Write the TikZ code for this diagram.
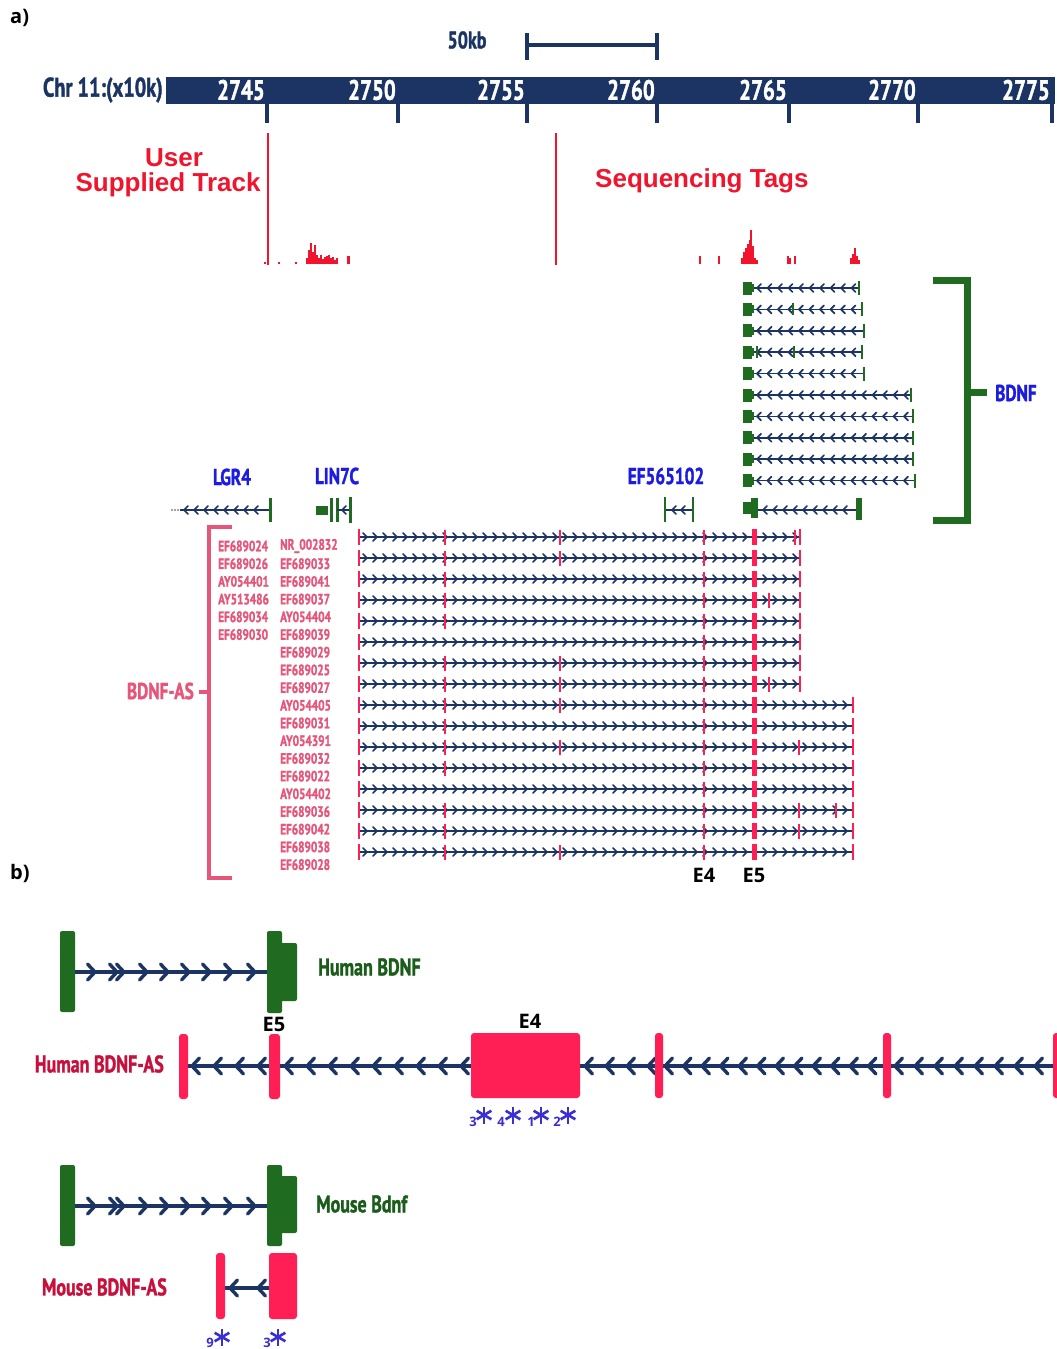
\documentclass[tikz,border=0pt]{standalone}
\usepackage{fontspec}
\setmainfont{Open Sans}
\newfontfamily\cnd[FakeStretch=0.75,FakeBold=1.3]{PT Sans}
\newfontfamily\arl{Liberation Sans}
\definecolor{navy}{HTML}{1B3463}
\definecolor{gene}{HTML}{1F6B20}
\definecolor{genetxt}{HTML}{1A5C1A}
\definecolor{lbl}{HTML}{1C1CE0}
\definecolor{trk}{HTML}{F0142D}
\definecolor{aslbl}{HTML}{E6557A}
\definecolor{asx}{HTML}{FF1F55}
\definecolor{crim}{HTML}{C8103C}
\definecolor{astr}{HTML}{3A2FD0}
\begin{document}
\begin{tikzpicture}[x=1pt,y=-1pt,
  cn/.style={font=\cnd\bfseries\fontsize{#1}{#1}\selectfont, inner sep=0pt},
  osb/.style={font=\bfseries\fontsize{#1}{#1}\selectfont, inner sep=0pt},
  trkl/.style={font=\arl\bfseries\fontsize{26}{26}\selectfont, text=trk, inner sep=0pt},
  chl/.pic={\draw[navy,line width=1.7pt,line cap=round,line join=round] (4,-4) -- (0,0) -- (4,4);},
  chr/.pic={\draw[navy,line width=1.7pt,line cap=round,line join=round] (-4,-4) -- (0,0) -- (-4,4);},
  bchl/.pic={\draw[navy,line width=3.4pt,line cap=round,line join=round] (7.5,-8) -- (0,0) -- (7.5,8);},
  bchr/.pic={\draw[navy,line width=3.4pt,line cap=round,line join=round] (-7.5,-8) -- (0,0) -- (-7.5,8);},
  star/.pic={\foreach \a in {90,30,150} \draw[astr,line width=2.6pt] (\a:8.5) -- (\a+180:8.5);},
  asline/.style={navy,line width=1.6pt},
  asmark/.style={asx,line width=2.2pt},
  gtick/.style={gene,line width=2.6pt},
  bline/.style={navy,line width=3.2pt},
  stardig/.style={font=\bfseries\fontsize{13}{13}\selectfont,text=astr,inner sep=0pt},
]
\fill[white] (0,0) rectangle (1057,1349);
\useasboundingbox (0,0) rectangle (1057,1349);

% ---------------- panel a: ruler ----------------
\node[osb=20,anchor=west] (pa) at (10,18) {a)};
\node[cn=24,text=navy] (kb) at (467,40) {50kb};
\draw[navy,line width=3.5pt] (527,45) -- (657,45);
\draw[navy,line width=3.5pt] (527,33) -- (527,60);
\draw[navy,line width=3.5pt] (657,33) -- (657,60);

\fill[navy] (166,77) rectangle (1055,104);
\node[cn=27,text=navy,anchor=east] (chr) at (163,90) {Chr 11:(x10k)};
\foreach \tx/\lab in {267/2745,398/2750,527/2755,657/2760,789/2765,918/2770,1052/2775} {
  \draw[navy,line width=3.5pt] (\tx,100) -- (\tx,123);
  \node[cn=28,text=white,anchor=east] (t\lab) at (\tx-2,90) {\lab};
}

% ---------------- signal tracks ----------------
\node[trkl] (user) at (174,158) {User};
\node[trkl] (supp) at (168,185) {Supplied Track};
\node[trkl,anchor=west] (seq) at (595,181) {Sequencing Tags};
\draw[trk,line width=1.8pt] (268,133) -- (268,265);
\draw[trk,line width=1.8pt] (556,133) -- (556,265);
\foreach \px/\py in {265/262,279/262,296/262,307/258,309/250,311/243,313/252,315/245,317/255,319/258,
  321/255,323/259,325/257,327/256,329/255,331/258,333/257,335/260,337/258,348/256,349/256,
  700/256,719/256,742/258,744/252,746/248,748/244,750/240,751/230,753/246,755/258,757/260,
  788/256,790/258,795/256,851/258,853/254,855/248,857/256,859/260}
  \draw[trk,line width=1.4pt] (\px,264) -- (\px,\py);

% ---------------- BDNF transcripts ----------------
\foreach \i/\xe in {1/859,2/862,3/864,4/862,5/864,6/911,7/913,8/913,9/913,10/915} {
  \pgfmathsetmacro\ry{288+21.4*(\i-1)}
  \pgfmathsetmacro\ce{\xe-4}
  \draw[asline] (752,\ry) -- (\xe,\ry);
  \foreach \cx in {757,767.5,...,\ce} \pic at (\cx,\ry) {chl};
  \fill[gene] (743,\ry-6.5) rectangle (752,\ry+6.5);
  \fill[gene] (751,\ry-4) rectangle (754,\ry+4);
  \draw[gtick] (\xe,\ry-7) -- (\xe,\ry+7);
}
\draw[gtick] (793,303.4) -- (793,315.4);
\draw[gtick] (757,346.2) -- (757,358.2);
\draw[gtick] (794,346.2) -- (794,358.2);
\draw[asline] (756,510) -- (858,510);
\foreach \cx in {763,773,...,850} \pic at (\cx,510) {chl};
\fill[gene] (743,502) rectangle (752,514);
\fill[gene] (751,498) rectangle (758,518);
\fill[gene] (856,498) rectangle (862,520);

\draw[gene,line width=7pt] (933,280.5) -- (967.5,280.5) -- (967.5,520.5) -- (933,520.5);
\draw[gene,line width=7pt] (967.5,392.5) -- (987,392.5);
\node[cn=23,text=lbl,anchor=west] (bdnf) at (995,393) {BDNF};

% ---------------- neighbouring genes ----------------
\node[cn=23,text=lbl] (lgr) at (232,477) {LGR4};
\node[cn=23,text=lbl] (lin) at (337,476) {LIN7C};
\node[cn=23,text=lbl] (ef) at (666,476) {EF565102};

\foreach \dx in {172,175,178} \fill[gene] (\dx,510) circle (0.9);
\draw[asline] (180,510) -- (270,510);
\foreach \cx in {184,194,...,262} \pic at (\cx,510) {chl};
\draw[gene,line width=3pt] (270,498) -- (270,522);

\fill[gene] (316,506) rectangle (328,515);
\draw[gene,line width=3pt] (331,498) -- (331,522);
\draw[gene,line width=3pt] (337,498) -- (337,522);
\draw[asline] (337,510) -- (350,510);
\pic at (342,510) {chl};
\draw[gene,line width=3pt] (350,497) -- (350,523);

\draw[asline] (665,510) -- (693,510);
\pic at (672,510) {chl};
\pic at (681,510) {chl};
\draw[gene,line width=2.5pt] (665,497) -- (665,522);
\draw[gene,line width=2.5pt] (693,497) -- (693,522);

% ---------------- BDNF-AS transcripts ----------------
\draw[aslbl,line width=4pt] (232,527) -- (209,527) -- (209,878) -- (232,878);
\draw[aslbl,line width=4pt] (199,692) -- (209,692);
\node[cn=23,text=aslbl,anchor=east] (bdnfas) at (194,691) {BDNF-AS};

\foreach \nm [count=\k] in {EF689024,EF689026,AY054401,AY513486,EF689034,EF689030}
  \node[cn=15,text=aslbl,anchor=west] (ca\k) at (218,{546+17.7*(\k-1)}) {\nm};
\foreach \nm [count=\k] in {NR\_002832,EF689033,EF689041,EF689037,AY054404,EF689039,EF689029,
  EF689025,EF689027,AY054405,EF689031,AY054391,EF689032,EF689022,AY054402,EF689036,EF689042,
  EF689038,EF689028}
  \node[cn=15,text=aslbl,anchor=west] (cb\k) at (280,{546+17.7*(\k-1)}) {\nm};

\foreach \i/\xe/\mk in {1/800/{445,560,704,795},2/800/{445,560,704},3/800/{445,704},
  4/800/{445,704,769},5/800/{445,704},6/800/{704},7/800/{445,560,704},8/800/{445,560,704,769},
  9/853/{445,560,704},10/853/{445,704},11/853/{445,560,704,799},12/853/{445,704},13/853/{704},
  14/853/{445,704,799,836},15/853/{445,704,799},16/853/{445,560,704}} {
  \pgfmathsetmacro\ry{537+21*(\i-1)}
  \pgfmathsetmacro\ce{\xe-3}
  \draw[asline] (359,\ry) -- (\xe,\ry);
  \foreach \cx in {367,377,...,\ce} \pic at (\cx,\ry) {chr};
  \foreach \m in \mk \draw[asmark] (\m,\ry-7.5) -- (\m,\ry+7.5);
  \draw[asmark] (359,\ry-8) -- (359,\ry+8);
  \draw[asx,line width=5pt] (754,\ry-8) -- (754,\ry+8);
  \draw[asmark,line width=2.6pt] (\xe,\ry-8) -- (\xe,\ry+8);
}
\node[osb=20] (e4a) at (704,875) {E4};
\node[osb=20] (e5a) at (754,875) {E5};

% ---------------- panel b ----------------
\node[osb=20,anchor=west] (pb) at (10,873) {b)};

% human BDNF
\draw[bline] (75,972) -- (267,972);
\foreach \cx in {95,117,124,147,168,189,210,232,255} \pic at (\cx,972) {bchr};
\fill[gene,rounded corners=2pt] (60,931) rectangle (75,1012);
\fill[gene,rounded corners=2pt] (267,931) rectangle (282,1013);
\fill[gene,rounded corners=2pt] (279,943) rectangle (297,1001);
\node[cn=24,text=genetxt,anchor=west] (hb) at (318,967) {Human BDNF};

% human BDNF-AS
\draw[bline] (187,1066) -- (1057,1066);
\foreach \cx in {192,214,236,258,
  285,307,329,351,373,395,417,439,461,
  585,606,627,648,
  665,683.5,...,880,
  895,915,...,1050} \pic at (\cx,1066) {bchl};
\fill[asx,rounded corners=3pt] (179,1034) rectangle (188,1099);
\fill[asx,rounded corners=3pt] (269,1034) rectangle (280,1099);
\fill[asx,rounded corners=3pt] (471,1033) rectangle (580,1098);
\fill[asx,rounded corners=3pt] (655,1033) rectangle (663,1098);
\fill[asx,rounded corners=3pt] (883,1033) rectangle (891,1098);
\fill[asx,rounded corners=3pt] (1053,1033) rectangle (1061,1098);
\node[cn=24,text=crim,anchor=east] (hbas) at (164,1064) {Human BDNF-AS};
\node[osb=20] (e5b) at (274,1024) {E5};
\node[osb=20] (e4b) at (530,1021) {E4};

\foreach \dg/\dx/\sx in {3/473/484,4/501/513,1/531/541,2/557/568} {
  \pic at (\sx,1115) {star};
  \node[stardig] at (\dx,1122) {\dg};
}

% mouse Bdnf
\draw[bline] (75,1206) -- (267,1206);
\foreach \cx in {95,117,124,147,168,189,210,232,255} \pic at (\cx,1206) {bchr};
\fill[gene,rounded corners=2pt] (60,1165) rectangle (75,1246);
\fill[gene,rounded corners=2pt] (267,1165) rectangle (282,1246);
\fill[gene,rounded corners=2pt] (279,1176) rectangle (297,1233);
\node[cn=24,text=genetxt,anchor=west] (mb) at (316,1204) {Mouse Bdnf};

% mouse BDNF-AS
\draw[bline] (225,1288) -- (269,1288);
\foreach \cx in {230,258} \pic at (\cx,1288) {bchl};
\fill[asx,rounded corners=3pt] (216,1253) rectangle (225,1319);
\fill[asx,rounded corners=3pt] (269,1253) rectangle (297,1319);
\node[cn=24,text=crim,anchor=east] (mbas) at (167,1287) {Mouse BDNF-AS};
\foreach \dg/\dx/\sx in {9/210/222,3/267/278} {
  \pic at (\sx,1337) {star};
  \node[stardig] at (\dx,1343) {\dg};
}
\end{tikzpicture}
\end{document}
